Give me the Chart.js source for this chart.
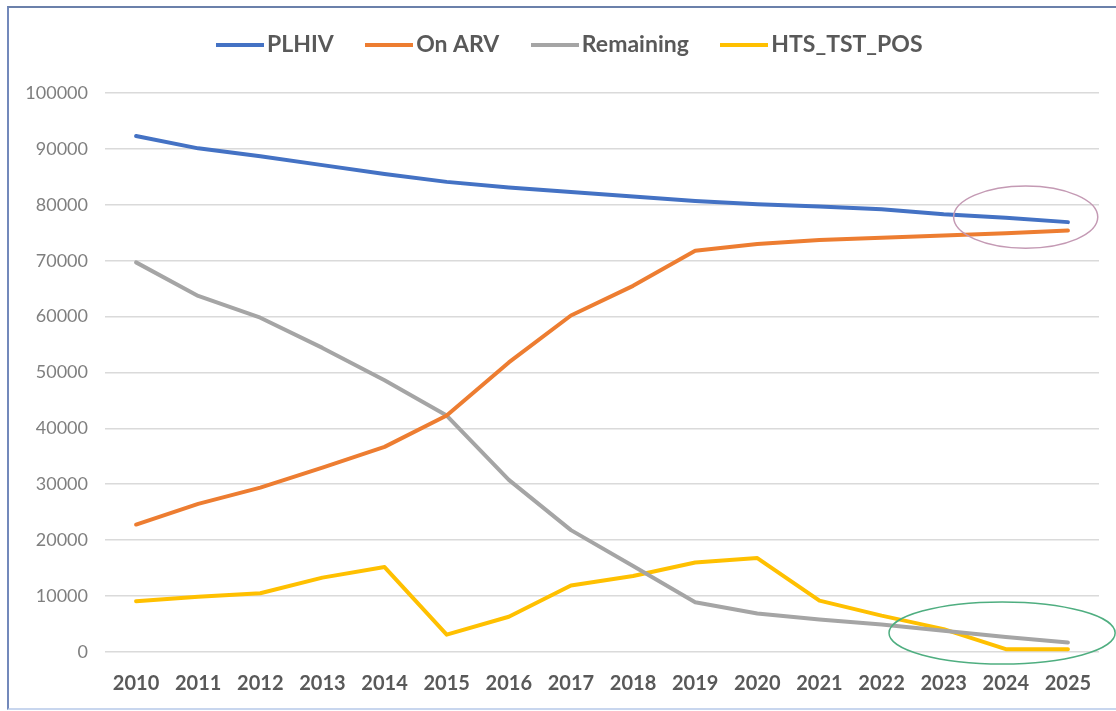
<!DOCTYPE html>
<html>
<head>
<meta charset="utf-8">
<script src="https://cdn.jsdelivr.net/npm/chart.js@4/dist/chart.umd.min.js"></script>
<style>
html,body{margin:0;padding:0;background:#fff;overflow:hidden;}
#frame{position:absolute;left:7px;top:6px;width:1120px;height:704px;box-sizing:border-box;
  border-left:2px solid #7389bb;border-top:2px solid #6b80aa;border-bottom:2px solid #c8d6ee;}
#wrap{position:absolute;left:0;top:0;width:1116px;height:711px;}
</style>
</head>
<body>
<div id="frame"></div>
<div id="wrap"><canvas id="c"></canvas></div>
<script>
// ---- data ----
const years = ['2010','2011','2012','2013','2014','2015','2016','2017','2018','2019','2020','2021','2022','2023','2024','2025'];
const plhiv     = [92300, 90100, 88700, 87100, 85500, 84100, 83100, 82300, 81500, 80700, 80100, 79700, 79200, 78300, 77700, 76900];
const onArv     = [22800, 26500, 29400, 33000, 36700, 42300, 51800, 60200, 65500, 71800, 73000, 73700, 74100, 74500, 74900, 75400];
const remaining = [69700, 63700, 59800, 54400, 48600, 42300, 30800, 21800, 15400, 8900, 6900, 5800, 4900, 3800, 2700, 1700];
const htsTstPos = [9100, 9900, 10500, 13300, 15200, 3100, 6300, 11900, 13600, 16000, 16800, 9200, 6500, 4100, 500, 500];
const seriesNames = ['PLHIV', 'On ARV', 'Remaining', 'HTS_TST_POS'];
const yMin = 0, yMax = 100000, yStep = 10000;

// annotation ellipses (in data units: category index / value)
const ellipseCenterX = [14.32, 13.94];
const ellipseCenterY = [77800, 3400];
const ellipseRadiusX = [1.16, 1.82];
const ellipseRadiusY = [5560, 5560];
const ellipseColors  = ['#c49ab4', '#4fae80'];

// ---- styles ----
const colors = ['#4472C4', '#ED7D31', '#A5A5A5', '#FFC000'];
const FONT = 'Lato, "Open Sans", sans-serif';

function legendLine(color) {
  const c = document.createElement('canvas');
  c.width = 48; c.height = 4;
  const g = c.getContext('2d');
  g.fillStyle = color;
  g.fillRect(0, 0, 48, 4);
  return c;
}

const seriesData = [plhiv, onArv, remaining, htsTstPos];
const datasets = seriesNames.map((name, i) => ({
  label: name,
  data: seriesData[i],
  borderColor: colors[i],
  backgroundColor: colors[i],
  borderWidth: 4,
  pointRadius: 0,
  pointHoverRadius: 0,
  pointStyle: legendLine(colors[i]),
  tension: 0,
  borderJoinStyle: 'round',
  borderCapStyle: 'round',
  fill: false
}));

const legendTweak = {
  id: 'legendTweak',
  beforeInit(chart) {
    const leg = chart.legend;
    if (!leg) return;
    const origFit = leg.fit;
    leg.fit = function () { origFit.call(this); this.height = 100; };
    const origDraw = leg.draw;
    leg.draw = function () {
      const ctx = this.ctx;
      ctx.save();
      ctx.translate(24, 0);
      origDraw.call(this);
      ctx.restore();
    };
  }
};

const ellipsePlugin = {
  id: 'ellipses',
  afterDraw(chart) {
    const xs = chart.scales.x, ys = chart.scales.y, ctx = chart.ctx;
    ctx.save();
    for (let i = 0; i < ellipseCenterX.length; i++) {
      const cx = xs.getPixelForValue(ellipseCenterX[i]);
      const cy = ys.getPixelForValue(ellipseCenterY[i]);
      const rx = xs.getPixelForValue(ellipseCenterX[i] + ellipseRadiusX[i]) - cx;
      const ry = cy - ys.getPixelForValue(ellipseCenterY[i] + ellipseRadiusY[i]);
      ctx.beginPath();
      ctx.ellipse(cx, cy, rx, ry, 0, 0, Math.PI * 2);
      ctx.strokeStyle = ellipseColors[i];
      ctx.lineWidth = 1.5;
      ctx.stroke();
    }
    ctx.restore();
  }
};

function build() {
  new Chart(document.getElementById('c'), {
    type: 'line',
    data: { labels: years, datasets },
    options: {
      responsive: true,
      maintainAspectRatio: false,
      animation: false,
      devicePixelRatio: 1,
      layout: { padding: { top: -7, left: 0, right: 17, bottom: 3 } },
      plugins: {
        legend: {
          position: 'top',
          align: 'center',
          labels: {
            usePointStyle: true,
            pointStyleWidth: 31,
            padding: 40,
            color: '#595959',
            font: { family: FONT, size: 23, weight: 'bold' }
          }
        },
        tooltip: { enabled: false }
      },
      scales: {
        x: {
          type: 'category',
          offset: true,
          grid: { display: false },
          border: { display: false },
          ticks: {
            color: '#595959',
            font: { family: FONT, size: 20, weight: 'bold' },
            padding: 12,
            maxRotation: 0,
            autoSkip: false
          }
        },
        y: {
          min: yMin,
          max: yMax,
          afterFit(s) { s.width = 105; },
          grid: { color: '#dadada', lineWidth: 1.6, drawTicks: false },
          border: { display: false },
          ticks: {
            stepSize: yStep,
            color: '#7f7f7f',
            font: { family: FONT, size: 18 },
            padding: 17,
            callback: v => String(v)
          }
        }
      }
    },
    plugins: [legendTweak, ellipsePlugin]
  });
}

Promise.all([
  document.fonts.load('bold 23px Lato'),
  document.fonts.load('18px Lato')
]).then(build, build);
</script>
</body>
</html>
